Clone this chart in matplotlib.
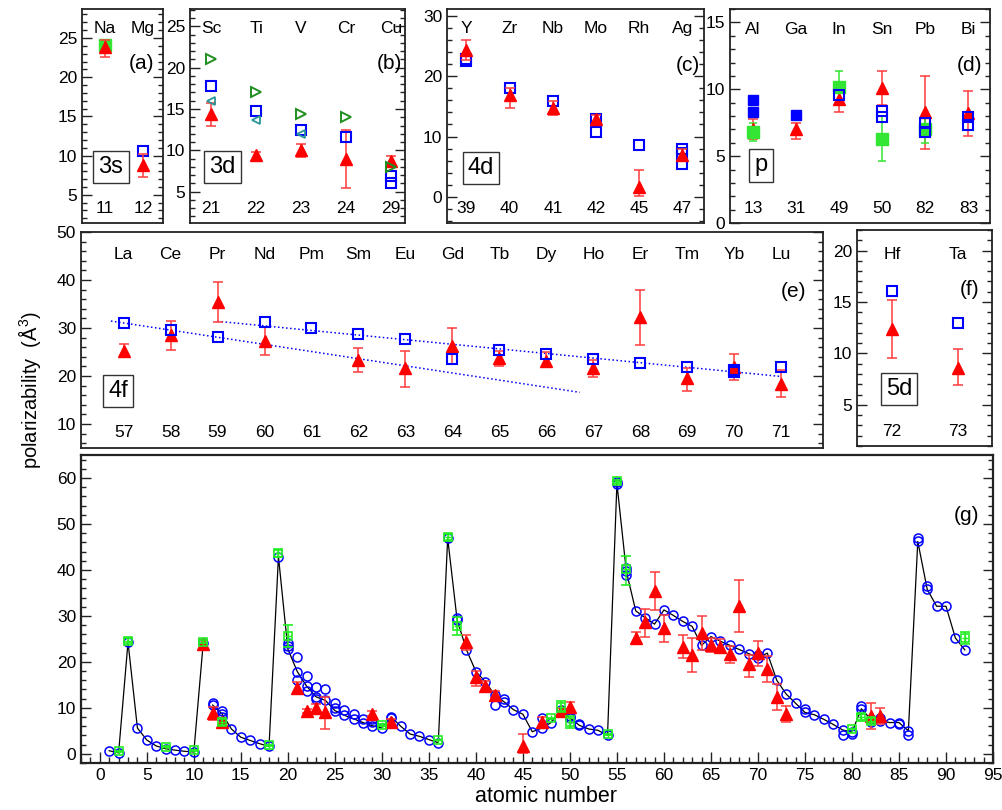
import matplotlib
matplotlib.use('Agg')
import matplotlib.pyplot as plt
import numpy as np
from matplotlib.ticker import MultipleLocator
from matplotlib.transforms import blended_transform_factory

plt.rcParams['font.family'] = ['Liberation Sans', 'DejaVu Sans']
plt.rcParams['mathtext.fontset'] = 'custom'
plt.rcParams['mathtext.rm'] = 'Liberation Sans'

# ------------------------------------------------------------------ data
# experimental values (red triangles): Z, value, lower, upper
exp_z = [11, 12, 13, 21, 22, 23, 24, 29, 31, 39, 40, 41, 42, 45, 47, 49, 50,
         57, 58, 59, 60, 62, 63, 64, 65, 66, 67, 68, 69, 70, 71, 72, 73, 82, 83]
exp_v = [23.8, 8.8, 7.0, 14.4, 9.4, 10.0, 9.0, 8.7, 7.0, 24.3, 16.8, 14.8, 12.9, 1.7, 6.9, 9.25, 10.1,
         25.3, 28.6, 35.5, 27.3, 23.3, 21.6, 26.3, 23.7, 23.2, 21.7, 32.2, 19.5, 21.9, 18.4, 12.4, 8.6, 8.3, 8.2]
exp_lo = [22.6, 7.3, 6.3, 13.0, 8.8, 9.2, 5.4, 8.2, 6.3, 22.6, 14.8, 13.6, 12.2, 0.1, 6.0, 8.3, 8.8,
          24.2, 25.5, 31.3, 24.4, 20.8, 17.8, 22.5, 22.1, 21.9, 19.8, 26.4, 16.8, 19.1, 15.6, 9.6, 6.9, 5.5, 6.5]
exp_hi = [24.7, 10.2, 7.8, 15.7, 9.8, 10.8, 12.4, 9.3, 7.5, 25.9, 18.1, 15.8, 13.6, 4.4, 7.9, 10.0, 11.35,
          26.6, 31.4, 39.5, 30.2, 25.8, 25.3, 30.0, 25.2, 24.9, 23.4, 37.9, 21.6, 24.6, 21.2, 15.2, 10.4, 11.0, 9.9]

# panel (a) 3s
a_syms = ['Na', 'Mg']
a_nums = [11, 12]
a_sq_cat = ['Mg']
a_sq_v = [10.6]
a_green_cat = ['Na']
a_green_v = [24.1]

# panel (b) 3d
b_syms = ['Sc', 'Ti', 'V', 'Cr', 'Cu']
b_nums = [21, 22, 23, 24, 29]
b_sq_cat = ['Sc', 'Ti', 'V', 'Cr', 'Cu', 'Cu']
b_sq_v = [17.8, 14.7, 12.4, 11.6, 6.9, 6.0]
b_right_cat = ['Sc', 'Ti', 'V', 'Cr', 'Cu']
b_right_v = [21.1, 17.0, 14.4, 14.0, 8.0]
b_left_cat = ['Sc', 'Ti', 'V']
b_left_v = [16.0, 13.7, 11.95]

# panel (c) 4d
c_syms = ['Y', 'Zr', 'Nb', 'Mo', 'Rh', 'Ag']
c_nums = [39, 40, 41, 42, 45, 47]
c_sq_cat = ['Y', 'Y', 'Zr', 'Nb', 'Mo', 'Mo', 'Rh', 'Ag', 'Ag', 'Ag']
c_sq_v = [22.8, 22.5, 18.0, 15.8, 12.9, 10.7, 8.6, 7.9, 7.3, 5.4]

# panel (d) p
d_syms = ['Al', 'Ga', 'In', 'Sn', 'Pb', 'Bi']
d_nums = [13, 31, 49, 50, 82, 83]
d_fill_cat = ['Al', 'Al', 'Ga']
d_fill_v = [9.2, 8.3, 8.1]
d_open_cat = ['In', 'Sn', 'Sn', 'Pb', 'Pb', 'Bi', 'Bi']
d_open_v = [9.6, 8.4, 7.9, 7.5, 6.8, 7.9, 7.3]
d_green_cat = ['Al', 'In', 'Sn', 'Pb']
d_green_v = [6.8, 10.2, 6.3, 7.0]
d_green_lo = [6.15, 9.0, 4.6, 6.0]
d_green_hi = [7.45, 11.4, 8.0, 8.0]

# panel (e) 4f
e_syms = ['La', 'Ce', 'Pr', 'Nd', 'Pm', 'Sm', 'Eu', 'Gd', 'Tb', 'Dy', 'Ho', 'Er', 'Tm', 'Yb', 'Lu']
e_nums = list(range(57, 72))
e_sq_cat = e_syms + ['Yb']
e_sq_v = [31.1, 29.6, 28.2, 31.3, 30.1, 28.8, 27.7, 23.6, 25.5, 24.5, 23.6, 22.7, 21.8, 21.3, 21.9, 20.9]
fit_upper_z = [59, 71]
fit_upper_v = [31.4, 19.9]
fit_lower_z = [56.73, 66.71]
fit_lower_v = [31.45, 16.6]

# panel (f) 5d
f_syms = ['Hf', 'Ta']
f_nums = [72, 73]
f_sq_cat = ['Hf', 'Ta']
f_sq_v = [16.1, 13.0]

# panel (g) overview
theory_z = list(range(1, 93))
theory_v = [0.67, 0.2, 24.3, 5.6, 3.0, 1.7, 1.1, 0.8, 0.55, 0.4,
            24.1, 10.6, 8.7, 5.4, 3.6, 2.9, 2.2, 1.6, 42.9, 22.8,
            17.9, 14.7, 12.4, 11.6, 9.4, 8.4, 7.6, 6.8, 6.1, 5.6,
            8.0, 6.0, 4.3, 3.8, 3.1, 2.4, 46.9, 29.2, 22.6, 17.9,
            15.7, 12.8, 11.3, 9.6, 8.6, 4.8, 5.6, 6.8, 9.5, 7.8,
            6.2, 5.4, 5.1, 4.0, 58.8, 39.7, 31.1, 29.6, 28.2, 31.3,
            30.1, 28.8, 27.7, 23.6, 25.5, 24.5, 23.6, 22.7, 21.8, 20.9,
            21.9, 16.0, 13.0, 11.0, 9.0, 8.5, 7.5, 6.4, 5.2, 4.7,
            9.8, 7.5, 7.2, 6.8, 6.8, 5.0, 46.2, 35.8, 32.1, 32.1,
            25.2, 22.6]
line_break_after = 11
extra_z = [12, 13, 13, 20, 20, 21, 21, 22, 22, 23, 23, 24, 25, 25, 26, 27, 28, 29, 29, 31,
           38, 42, 43, 47, 50, 51, 55, 56, 56, 70, 75, 79, 80, 81, 82, 83, 85, 86, 87, 88]
extra_v = [11.0, 9.3, 8.1, 23.5, 24.2, 21.0, 16.0, 17.0, 13.7, 14.5, 12.0, 14.1, 11.1, 10.0, 9.6, 8.6, 7.6, 7.5, 6.9, 7.7,
           29.5, 10.6, 11.9, 7.7, 8.3, 6.5, 59.1, 40.5, 38.8, 21.4, 9.8, 4.1, 4.4, 10.5, 6.9, 7.8, 6.4, 4.1, 46.9, 36.5]
green_z = [2, 3, 7, 10, 11, 13, 18, 19, 20, 30, 36, 37, 38, 48, 49, 50, 54, 55, 56, 80, 81, 82, 92]
green_v = [0.6, 24.6, 1.5, 0.8, 24.4, 7.0, 1.9, 43.6, 25.6, 6.2, 3.0, 47.2, 27.8, 7.7, 10.2, 7.0, 4.2, 59.3, 40.1, 5.4, 8.0, 7.2, 25.2]
green_lo = [0.5, 24.0, 1.4, 0.7, 24.0, 6.3, 1.8, 42.8, 23.2, 6.0, 2.9, 46.6, 25.8, 7.6, 9.0, 5.6, 4.1, 59.0, 36.7, 5.3, 7.4, 6.6, 23.8]
green_hi = [0.7, 25.2, 1.6, 0.9, 24.8, 7.6, 2.0, 44.4, 28.0, 6.4, 3.1, 47.8, 29.8, 7.8, 11.4, 8.3, 4.3, 59.6, 43.1, 5.5, 8.6, 7.8, 26.6]

# ------------------------------------------------------------------ style
RED = '#ff0000'
RED_E = '#ff3b3b'
BLUE = '#0000ff'
LIME = '#33e633'
LIME_G = '#22ee22'
DKGREEN = '#1f8f1f'
TEAL = '#2a9595'
FRAME = '#222222'

W, H = 1002, 810
fig = plt.figure(figsize=(W / 100, H / 100), dpi=100)


def make_ax(l, t, r, b):
    return fig.add_axes([l / W, 1 - b / H, (r - l) / W, (b - t) / H])


def style(ax, ylim, major, minor, xlim=None, lw=1.3):
    ax.set_ylim(*ylim)
    if xlim is not None:
        ax.set_xlim(*xlim)
        ax.set_xticks([])
    ax.yaxis.set_major_locator(MultipleLocator(major))
    ax.yaxis.set_minor_locator(MultipleLocator(minor))
    ax.tick_params(axis='y', which='both', direction='in', left=True, right=True, labelsize=12.5, colors=FRAME)
    ax.tick_params(axis='y', which='major', length=7, width=1)
    ax.tick_params(axis='y', which='minor', length=3.5, width=1)
    ax.tick_params(axis='y', labelcolor='black')
    for s in ax.spines.values():
        s.set_linewidth(lw)
        s.set_color(FRAME)


def cat_text(ax, syms, nums, ysym, ynum):
    tr = blended_transform_factory(ax.transData, ax.transAxes)
    for i, (s, n) in enumerate(zip(syms, nums)):
        ax.text(i, ysym, s, transform=tr, ha='center', va='center', fontsize=12.5)
        ax.text(i, ynum, str(n), transform=tr, ha='center', va='center', fontsize=12.5)


def box_label(ax, x, y, s):
    ax.text(x, y, s, transform=ax.transAxes, ha='center', va='center', fontsize=17,
            bbox=dict(boxstyle='square,pad=0.22', fc='white', ec='#333333', lw=1.0), zorder=6)


def panel_label(ax, x, y, s):
    ax.text(x, y, s, transform=ax.transAxes, ha='right', va='center', fontsize=15)


def exp_sel(zs):
    xs, v, lo, hi = [], [], [], []
    for i, z in enumerate(zs):
        if z in exp_z:
            k = exp_z.index(z)
            xs.append(i)
            v.append(exp_v[k])
            lo.append(exp_v[k] - exp_lo[k])
            hi.append(exp_hi[k] - exp_v[k])
    return xs, v, [lo, hi]


def red_tri(ax, zs, ms=9):
    xs, v, err = exp_sel(zs)
    ax.errorbar(xs, v, yerr=err, fmt='^', color=RED, ecolor=RED_E, ms=ms, capsize=3.5,
                elinewidth=1.1, capthick=1.1, mec=RED, zorder=4)


def idx(syms, cats):
    return [syms.index(c) for c in cats]


sq_kw = dict(ls='none', marker='s', mfc='none', mec=BLUE, ms=6.5, mew=1.5)

# (a)
axa = make_ax(82, 9, 163, 223)
style(axa, (1.4, 28.7), 5, 1, (-0.6, 1.53))
axa.plot(idx(a_syms, a_green_cat), a_green_v, ls='none', marker='s', color=LIME, ms=8, zorder=3)
axa.plot(idx(a_syms, a_sq_cat), a_sq_v, zorder=3, **sq_kw)
red_tri(axa, a_nums)
cat_text(axa, a_syms, a_nums, 0.91, 0.069)
box_label(axa, 0.358, 0.262, '3s')
panel_label(axa, 0.89, 0.743, '(a)')

# (b)
axb = make_ax(190, 9, 405, 223)
style(axb, (1.2, 27.1), 5, 1, (-0.47, 4.31))
red_tri(axb, b_nums)
axb.plot(idx(b_syms, b_sq_cat), b_sq_v, zorder=5, **sq_kw)
axb.plot(idx(b_syms, b_right_cat), b_right_v, ls='none', marker='>', mfc='none', mec=DKGREEN, ms=6.5, mew=1.4, zorder=5)
axb.plot(idx(b_syms, b_left_cat), b_left_v, ls='none', marker='<', mfc='none', mec=TEAL, ms=5.5, mew=1.3, zorder=5)
cat_text(axb, b_syms, b_nums, 0.91, 0.069)
box_label(axb, 0.151, 0.262, '3d')
panel_label(axb, 0.986, 0.743, '(b)')

# (c)
axc = make_ax(447, 9, 704, 223)
style(axc, (-4.3, 31.1), 10, 2, (-0.45, 5.5))
axc.plot(idx(c_syms, c_sq_cat), c_sq_v, zorder=3, **sq_kw)
red_tri(axc, c_nums)
cat_text(axc, c_syms, c_nums, 0.91, 0.069)
box_label(axc, 0.132, 0.257, '4d')
panel_label(axc, 0.984, 0.738, '(c)')

# (d)
axd = make_ax(730, 9, 990, 223)
style(axd, (0, 16), 5, 1, (-0.53, 5.5))
red_tri(axd, d_nums)
dg = idx(d_syms, d_green_cat)
axd.errorbar(dg, d_green_v, yerr=[np.subtract(d_green_v, d_green_lo), np.subtract(d_green_hi, d_green_v)],
             fmt='s', color=LIME, ecolor=LIME, ms=8, capsize=3, elinewidth=1.1, capthick=1.1, zorder=4)
axd.plot(idx(d_syms, d_fill_cat), d_fill_v, ls='none', marker='s', color=BLUE, ms=6.5, zorder=5)
axd.plot(idx(d_syms, d_open_cat), d_open_v, zorder=5, **sq_kw)
cat_text(axd, d_syms, d_nums, 0.905, 0.07)
box_label(axd, 0.119, 0.269, 'p')
panel_label(axd, 0.969, 0.738, '(d)')

# (e)
axe = make_ax(81, 232, 823, 448)
style(axe, (5, 50), 10, 2, (-0.907, 14.89))
axe.plot(np.subtract(fit_upper_z, e_nums[0]), fit_upper_v, ls=':', color=BLUE, lw=1.1, zorder=2)
axe.plot(np.subtract(fit_lower_z, e_nums[0]), fit_lower_v, ls=':', color=BLUE, lw=1.1, zorder=2)
red_tri(axe, e_nums)
axe.plot(idx(e_syms, e_sq_cat), e_sq_v, zorder=5, **sq_kw)
cat_text(axe, e_syms, e_nums, 0.894, 0.074)
box_label(axe, 0.050, 0.264, '4f')
panel_label(axe, 0.978, 0.724, '(e)')

# (f)
axf = make_ax(857, 230, 992, 446)
style(axf, (1, 22), 5, 1, (-0.53, 1.515))
red_tri(axf, f_nums)
axf.plot(idx(f_syms, f_sq_cat), f_sq_v, zorder=5, **sq_kw)
cat_text(axf, f_syms, f_nums, 0.886, 0.065)
box_label(axf, 0.311, 0.264, '5d')
panel_label(axf, 0.904, 0.724, '(f)')

# (g)
axg = make_ax(81, 455, 993, 763)
style(axg, (-2, 65), 10, 2, lw=1.6)
axg.set_xlim(-2, 95)
axg.xaxis.set_major_locator(MultipleLocator(5))
axg.xaxis.set_minor_locator(MultipleLocator(1))
axg.tick_params(axis='x', which='both', direction='in', bottom=True, top=False, labelsize=12.5, colors=FRAME)
axg.tick_params(axis='x', which='major', length=8, width=1)
axg.tick_params(axis='x', which='minor', length=4, width=1)
axg.tick_params(axis='x', labelcolor='black')
tz = np.array(theory_z, dtype=float)
tv = np.array(theory_v, dtype=float)
cut = theory_z.index(line_break_after) + 1
axg.plot(tz[:cut], tv[:cut], color='black', lw=0.9, zorder=2)
axg.plot(tz[cut:], tv[cut:], color='black', lw=0.9, zorder=2)
circ_kw = dict(ls='none', marker='o', mfc='none', mec=BLUE, ms=6.5, mew=1.1, zorder=3)
axg.plot(tz, tv, **circ_kw)
axg.plot(extra_z, extra_v, **circ_kw)
xs_all, v_all, err_all = exp_sel(list(range(0, 93)))
axg.errorbar(xs_all, v_all, yerr=err_all, fmt='^', color=RED, ecolor=RED_E, ms=8, capsize=3.5,
             elinewidth=1.1, capthick=1.1, zorder=4)
axg.errorbar(green_z, green_v, yerr=[np.subtract(green_v, green_lo), np.subtract(green_hi, green_v)],
             fmt='s', mfc='none', mec=LIME_G, ecolor=LIME_G, ms=5.5, mew=1.2, capsize=3.5,
             elinewidth=1.1, capthick=1.1, zorder=5)
axg.plot(green_z, green_v, ls='none', marker='+', color=LIME_G, ms=4, mew=1, zorder=5)
panel_label(axg, 0.985, 0.803, '(g)')

fig.text(30 / W, 1 - 390 / H, 'polarizability  (Å$^3$)', rotation=90, ha='center', va='center', fontsize=14.5)
fig.text(546 / W, 1 - 797 / H, 'atomic number', ha='center', va='center', fontsize=15.5)

fig.savefig('out.png', dpi=100)
